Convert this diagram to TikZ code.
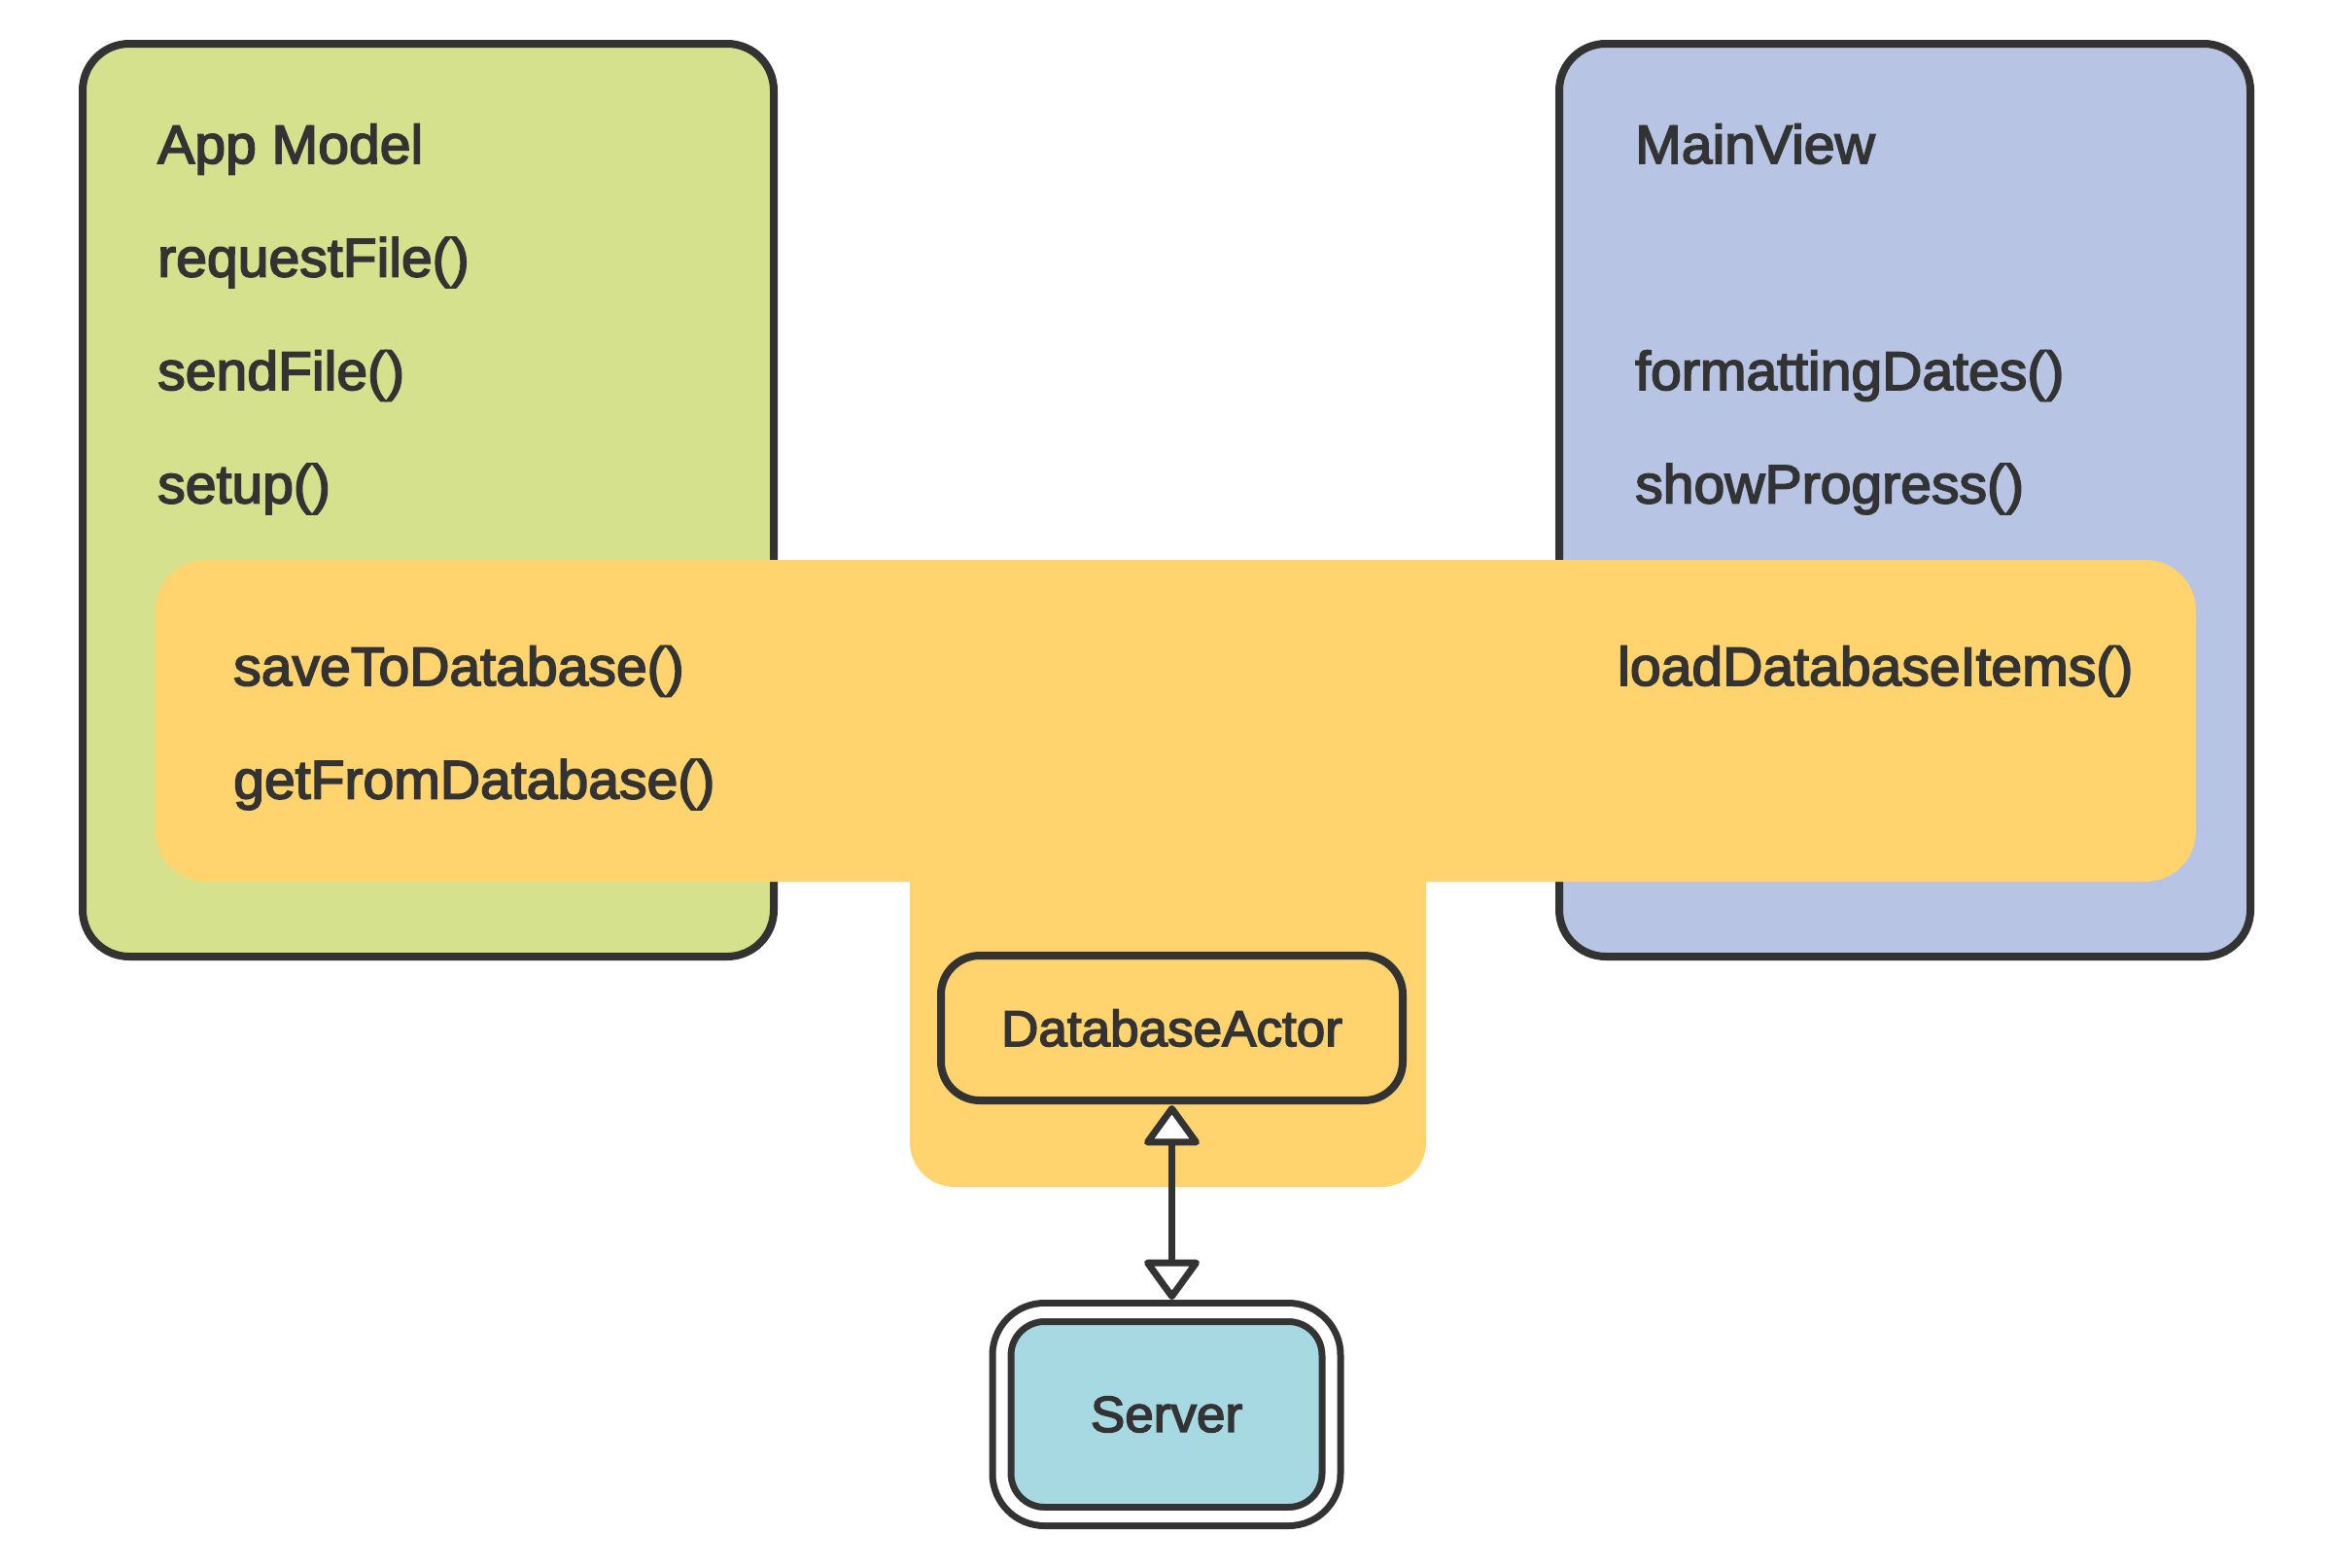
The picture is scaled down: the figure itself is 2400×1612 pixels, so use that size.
\documentclass[tikz,border=0pt]{standalone}
\usepackage{fontspec}
\setmainfont{Liberation Sans}
\newfontfamily\labelfont{Liberation Sans}[FakeBold=3, FakeStretch=1.02]
\usetikzlibrary{arrows.meta}

\definecolor{ink}{HTML}{333333}
\definecolor{modelgreen}{HTML}{D6E18E}
\definecolor{viewblue}{HTML}{B8C4E4}
\definecolor{actoryellow}{HTML}{FFD36E}
\definecolor{serverteal}{HTML}{A6D9E2}

\begin{document}
\begin{tikzpicture}[x=1pt,y=-1pt,
  panel/.style={draw=ink, line width=8pt, rounded corners=48pt, inner sep=0pt, outer sep=0pt},
  member/.style={anchor=base west, inner sep=0pt, text=ink, font=\labelfont\fontsize{56}{67}\selectfont},
  actorbox/.style={draw=ink, line width=8pt, rounded corners=40pt, inner sep=0pt, outer sep=0pt,
    text=ink, font=\labelfont\fontsize{52}{62}\selectfont},
  serverbox/.style={draw=ink, line width=7pt, double=white, double distance=12pt,
    rounded corners=44pt, inner sep=0pt, outer sep=0pt, text=ink, font=\labelfont\fontsize{52}{62}\selectfont},
  link/.style={draw=ink, line width=7pt,
    {Triangle[round, fill=white, length=44pt, width=62pt]}-{Triangle[round, fill=white, length=44pt, width=62pt]}},
]
\useasboundingbox (0,0) rectangle (2400,1612);

% outer panels
\node[panel, fill=modelgreen, minimum width=711pt, minimum height=939pt] (appmodel) at (440.5,514.5) {};
\node[panel, fill=viewblue, minimum width=711pt, minimum height=939pt] (mainview) at (1959.5,514.5) {};

% database actor region: a band across both panels with a stem below it
\fill[actoryellow, rounded corners=52pt] (160,576) rectangle (2259,907);
\fill[actoryellow, rounded corners=46pt] (936,760) rectangle (1467,1221);

% App Model members
\node[member] (amtitle) at (162,168) {App Model};
\node[member] (amreq) at (162,284.5) {requestFile()};
\node[member] (amsend) at (162,401) {sendFile()};
\node[member] (amsetup) at (162,517.5) {setup()};

% MainView members
\node[member] (mvtitle) at (1682,168) {MainView};
\node[member] (mvfmt) at (1682,401) {formattingDates()};
\node[member] (mvprog) at (1682,517.5) {showProgress()};

% isolated database members
\node[member] (dbsave) at (240,705) {saveToDatabase()};
\node[member] (dbget) at (240,821.5) {getFromDatabase()};
\node[member] (dbload) at (1664,705) {loadDatabaseItems()};

% actor and server
\node[actorbox, fill=actoryellow, minimum width=475pt, minimum height=149pt] (dba) at (1205.5,1057.5) {DatabaseActor};
\node[serverbox, fill=serverteal, minimum width=339pt, minimum height=210pt] (server) at (1200,1455) {Server};

\draw[link, shorten <=5pt, shorten >=13pt] (dba.south) -- (dba.south |- server.north);
\end{tikzpicture}
\end{document}
